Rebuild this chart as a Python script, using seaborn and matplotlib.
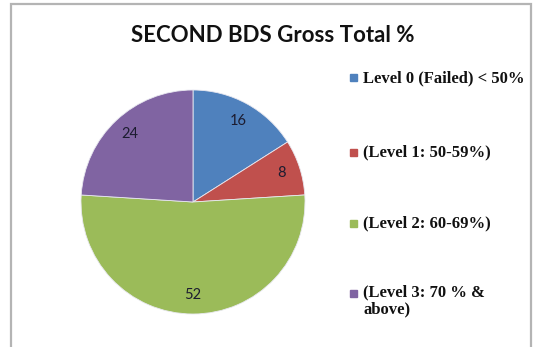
import matplotlib
matplotlib.use("Agg")
import matplotlib.pyplot as plt
from matplotlib.patches import Rectangle
import seaborn as sns

# datos del grafico
niveles = ["Level 0 (Failed) < 50%", "(Level 1: 50-59%)",
           "(Level 2: 60-69%)", "(Level 3: 70 % &\nabove)"]
valores = [16, 8, 52, 24]
colores = ["#4F81BD", "#C0504D", "#9BBB59", "#8064A2"]

sns.set_style("white")
paleta = sns.color_palette(colores)

fig = plt.figure(figsize=(5.36, 3.47), dpi=100)
fig.patch.set_facecolor("white")

# marco gris del area del grafico
fig.patches.append(Rectangle((11 / 536, -0.05), 520 / 536, 1.05 - 4 / 347,
                             transform=fig.transFigure, fill=False,
                             edgecolor="#b4b4b4", linewidth=1.6))

ax = fig.add_axes([81 / 536, 33 / 347, 224 / 536, 224 / 347])
wedges, textos, autotextos = ax.pie(
    valores, colors=paleta, startangle=90, counterclock=False,
    autopct=lambda p: f"{p:.0f}", pctdistance=0.83,
    wedgeprops=dict(edgecolor="#e8e8f0", linewidth=0.6),
    textprops=dict(fontsize=10.5, color="#1c1c30", family="Lato"))
ax.set_xlim(-1, 1)
ax.set_ylim(-1, 1)
ax.set_aspect("equal")
for w in wedges:
    w.set_clip_on(False)

fig.text(273 / 536, 1 - 35 / 347, "SECOND BDS Gross Total %",
         ha="center", va="center", fontsize=16, fontweight="bold",
         family="Lato", color="#111111")

# leyenda hecha a mano
filas = [78, 152, 223, 293]
for lab, col, y in zip(niveles, paleta, filas):
    fy = 1 - y / 347
    fig.patches.append(Rectangle((350 / 536, fy - 3.5 / 347), 7 / 536, 7 / 347,
                                 transform=fig.transFigure, color=col))
    if "\n" in lab:
        fig.text(363 / 536, fy + 9 / 347, lab, ha="left", va="top",
                 fontsize=12, fontweight="bold", family="Liberation Serif",
                 linespacing=1.15, color="#111111")
    else:
        fig.text(363 / 536, fy, lab, ha="left", va="center",
                 fontsize=12, fontweight="bold", family="Liberation Serif",
                 color="#111111")

plt.savefig("out.png", dpi=100)
